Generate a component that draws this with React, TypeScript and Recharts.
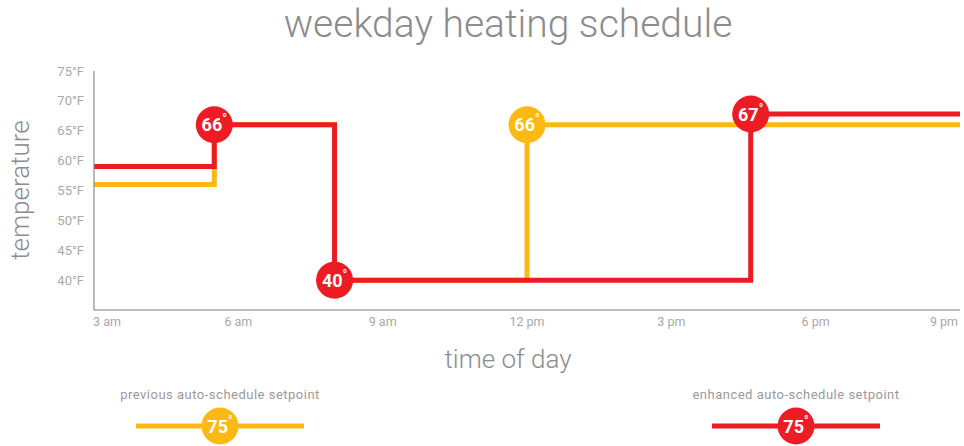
import React from 'react';
import { LineChart, Line, XAxis, YAxis } from 'recharts';

const HOUR_TICKS = [3, 6, 9, 12, 15, 18, 21];
const HOUR_LABELS = ['3 am', '6 am', '9 am', '12 pm', '3 pm', '6 pm', '9 pm'];
const TEMP_TICKS = [40, 45, 50, 55, 60, 65, 70, 75];

// previous auto-schedule (yellow)
const previousHours = [3, 5.5, 8, 12, 21];
const previousTemps = [56, 66, 40, 66, 66];
const previousMarks = [null, null, null, 66, null];

// enhanced auto-schedule (red)
const enhancedHours = [3, 5.5, 8, 16.65, 21];
const enhancedTemps = [59, 66, 40, 67.8, 67.8];
const enhancedMarks = [null, 66, 40, 67, null];

const LEGEND_NAMES = ['previous auto-schedule setpoint', 'enhanced auto-schedule setpoint'];
const LEGEND_SETPOINT = 75;

const YELLOW = '#FDB913';
const RED = '#ED1C24';
const FONT = 'Roboto, "Noto Sans", sans-serif';

const toRows = (hours: number[], temps: number[], marks: (number | null)[]) =>
  hours.map((h, i) => ({ hour: h, temp: temps[i], mark: marks[i] }));

const previousData = toRows(previousHours, previousTemps, previousMarks);
const enhancedData = toRows(enhancedHours, enhancedTemps, enhancedMarks);

function Badge({ cx, cy, color, value }: { cx: number; cy: number; color: string; value: number }) {
  return (
    <g>
      <circle cx={cx} cy={cy} r={18.5} fill={color} />
      <text x={cx} y={cy + 6.5} textAnchor="middle" fill="#fff" fontSize={18} fontWeight={700} fontFamily={FONT}>
        {value}
        <tspan fontSize={12} dy={-8}>°</tspan>
      </text>
    </g>
  );
}

const makeDot = (color: string) => (props: any) => {
  const { cx, cy, payload, index } = props;
  if (payload?.mark == null) return <g key={index} />;
  return <g key={index}><Badge cx={cx} cy={cy} color={color} value={payload.mark} /></g>;
};

function HourTick(props: any) {
  const { x, y, payload, index } = props;
  const last = HOUR_TICKS.length - 1;
  const anchor = index === 0 ? 'start' : index === last ? 'end' : 'middle';
  const dx = index === 0 ? -1 : index === last ? 2 : 0;
  return (
    <text x={x + dx} y={y + 8} textAnchor={anchor} fill="#a8a8a8" fontSize={12.5} fontFamily={FONT}>
      {HOUR_LABELS[HOUR_TICKS.indexOf(payload.value)]}
    </text>
  );
}

function LegendItem({ cx, name, color }: { cx: number; name: string; color: string }) {
  return (
    <g>
      <text x={cx} y={399} textAnchor="middle" fill="#9a9a9a" fontSize={13} letterSpacing={0.5} fontFamily={FONT}>{name}</text>
      <line x1={cx - 84} x2={cx + 84} y1={426} y2={426} stroke={color} strokeWidth={5} />
      <Badge cx={cx} cy={426} color={color} value={LEGEND_SETPOINT} />
    </g>
  );
}

export default function App() {
  return (
    <div style={{ position: 'absolute', left: 0, top: 0, width: 964, height: 446, fontFamily: FONT }}>
      <div style={{ position: 'absolute', left: 208, top: 2, width: 600, textAlign: 'center', fontSize: 39, fontWeight: 300, color: '#8c8c8c', lineHeight: '44px', whiteSpace: 'nowrap' }}>
        weekday heating schedule
      </div>
      <div style={{ position: 'absolute', left: 444, top: 343, width: 128, textAlign: 'center', fontSize: 26, fontWeight: 300, color: '#8c8c8c', lineHeight: '32px', whiteSpace: 'nowrap' }}>
        time of day
      </div>
      <div style={{ position: 'absolute', left: 20, top: 190, width: 0, height: 0 }}>
        <div style={{ position: 'absolute', left: -80, top: -16, width: 160, textAlign: 'center', fontSize: 26, fontWeight: 300, color: '#8c8c8c', lineHeight: '32px', transform: 'rotate(-90deg)', whiteSpace: 'nowrap' }}>
          temperature
        </div>
      </div>
      <div style={{ position: 'absolute', left: 0, top: 0 }}>
        <LineChart width={964} height={446} margin={{ top: 71, right: 4, bottom: 106, left: 34 }}>
          <XAxis
            type="number"
            dataKey="hour"
            domain={[3, 21]}
            ticks={HOUR_TICKS}
            allowDataOverflow
            tickLine={false}
            axisLine={{ stroke: '#bdbdbd', strokeWidth: 2 }}
            tick={<HourTick />}
            height={30}
          />
          <YAxis
            type="number"
            domain={[35, 75]}
            ticks={TEMP_TICKS}
            width={60}
            tickLine={false}
            tickMargin={4}
            axisLine={{ stroke: '#8a8a8a', strokeWidth: 1.2 }}
            tick={{ fill: '#a8a8a8', fontSize: 13, fontFamily: FONT }}
            tickFormatter={(v: number) => `${v}°F`}
          />
          <Line
            data={previousData}
            dataKey="temp"
            type="stepAfter"
            stroke={YELLOW}
            strokeWidth={5}
            dot={makeDot(YELLOW)}
            activeDot={false}
            isAnimationActive={false}
          />
          <Line
            data={enhancedData}
            dataKey="temp"
            type="stepAfter"
            stroke={RED}
            strokeWidth={5}
            dot={makeDot(RED)}
            activeDot={false}
            isAnimationActive={false}
          />
        </LineChart>
      </div>
      <svg width={964} height={446} style={{ position: 'absolute', left: 0, top: 0, pointerEvents: 'none' }}>
        <LegendItem cx={220} name={LEGEND_NAMES[0]} color={YELLOW} />
        <LegendItem cx={796} name={LEGEND_NAMES[1]} color={RED} />
      </svg>
    </div>
  );
}
